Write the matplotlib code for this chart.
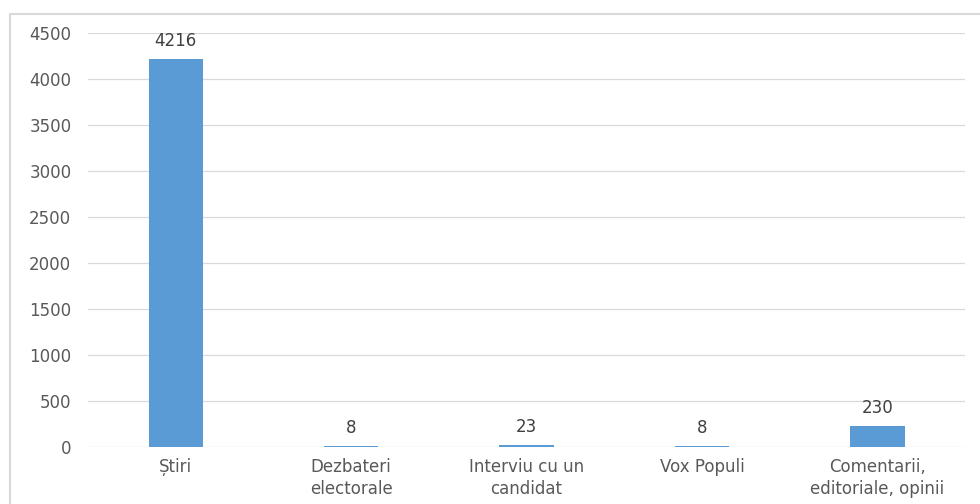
import matplotlib.pyplot as plt
from matplotlib.patches import Rectangle

categories = ["Știri", "Dezbateri\nelectorale", "Interviu cu un\ncandidat", "Vox Populi",
              "Comentarii,\neditoriale, opinii"]
values = [4216, 8, 23, 8, 230]
yticks = [0, 500, 1000, 1500, 2000, 2500, 3000, 3500, 4000, 4500]

bar_color = "#5B9BD5"
grid_color = "#D9D9D9"
text_color = "#595959"

plt.rcParams['font.family'] = ['DejaVu Sans']

fig = plt.figure(figsize=(9.8, 5.04), dpi=100)
ax = fig.add_axes([0.0898, 0.113, 0.895, 0.8215])

x = list(range(len(categories)))
bars = ax.bar(x, values, width=0.31, color=bar_color, zorder=3)

# value labels above bars
for xi, v in zip(x, values):
    ax.annotate(str(v), (xi, v), xytext=(0, 6.5), textcoords="offset points",
                ha="center", va="bottom", fontsize=12, color="#404040")

ax.set_xlim(-0.5, len(categories) - 0.5)
ax.set_ylim(0, 4500)
ax.set_yticks(yticks)
ax.set_xticks(x)
ax.set_xticklabels(categories, fontsize=12, color=text_color, linespacing=1.3)
ax.tick_params(axis="y", labelsize=12, labelcolor=text_color, length=0, pad=12)
ax.tick_params(axis="x", length=0, pad=8)
ax.grid(axis="y", color=grid_color, linewidth=0.9, zorder=0)
for s in ax.spines.values():
    s.set_visible(False)

# chart frame (Excel-like border)
frame = Rectangle((10 / 980, -0.05), 1.0, 1 - 14 / 504 + 0.05, transform=fig.transFigure,
                  fill=False, edgecolor=grid_color, linewidth=1.5, clip_on=False)
fig.patches.append(frame)

fig.savefig("out.png", dpi=100)
